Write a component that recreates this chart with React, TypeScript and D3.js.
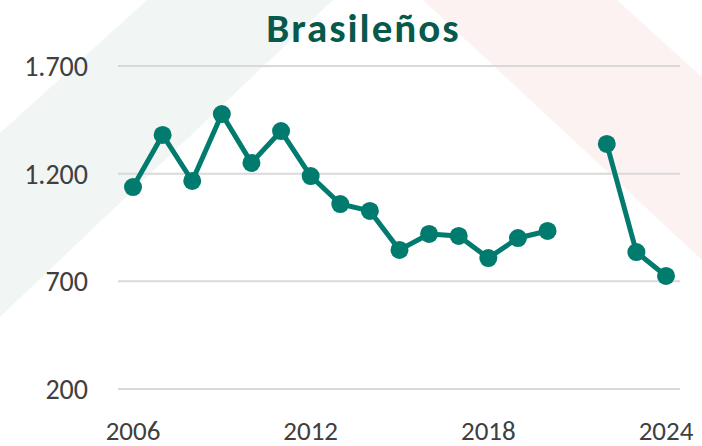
import { useEffect, useRef } from 'react';
import * as d3 from 'd3';

const years = [2006, 2007, 2008, 2009, 2010, 2011, 2012, 2013, 2014, 2015, 2016, 2017, 2018, 2019, 2020, 2021, 2022, 2023, 2024];
const brasilenos: (number | null)[] = [1138, 1380, 1166, 1477, 1250, 1398, 1189, 1059, 1027, 846, 920, 911, 808, 901, 934, null, 1338, 836, 725];
const yTicks = [200, 700, 1200, 1700];
const xTicks = [2006, 2012, 2018, 2024];
const title = 'Brasileños';

/**
 * Line chart: Brasileños per year, with a gap in 2021.
 */
export default function App() {
  const svgRef = useRef<SVGSVGElement>(null);

  useEffect(() => {
    if (!svgRef.current) return;

    const W = 702;
    const H = 446;
    const font = 'Carlito, Calibri, Lato, sans-serif';

    const svg = d3.select(svgRef.current);
    svg.selectAll('*').remove();
    svg.attr('width', W).attr('height', H).attr('viewBox', `0 0 ${W} ${H}`);

    svg.append('rect').attr('width', W).attr('height', H).attr('fill', '#ffffff');

    // faint diagonal watermark bands
    svg
      .append('polygon')
      .attr('points', '147,0 333,0 0,317 0,133')
      .attr('fill', '#f1f5f4');
    svg
      .append('polygon')
      .attr('points', '423,0 617,0 702,77 702,260')
      .attr('fill', '#fcf2f2');

    const x = d3.scaleLinear().domain([2006, 2024]).range([133, 666]);
    const y = d3.scaleLinear().domain([200, 1700]).range([389, 66]);

    // gridlines
    svg
      .append('g')
      .selectAll('line')
      .data(yTicks)
      .join('line')
      .attr('x1', 118)
      .attr('x2', 680)
      .attr('y1', (d) => y(d))
      .attr('y2', (d) => y(d))
      .attr('stroke', '#d9d9d9')
      .attr('stroke-width', 2);

    // y labels
    svg
      .append('g')
      .selectAll('text')
      .data(yTicks)
      .join('text')
      .attr('x', 88)
      .attr('y', (d) => y(d) + 10)
      .attr('text-anchor', 'end')
      .attr('font-family', font)
      .attr('font-size', '28px')
      .attr('fill', '#404040')
      .text((d) => d3.format(',')(d).replace(/,/g, '.'));

    // x labels
    svg
      .append('g')
      .selectAll('text')
      .data(xTicks)
      .join('text')
      .attr('x', (d) => x(d))
      .attr('y', 440)
      .attr('text-anchor', 'middle')
      .attr('font-family', font)
      .attr('font-size', '27px')
      .attr('fill', '#404040')
      .text((d) => String(d));

    const points = years.map((yr, i) => ({ yr, v: brasilenos[i] }));

    const line = d3
      .line<{ yr: number; v: number | null }>()
      .defined((d) => d.v !== null)
      .x((d) => x(d.yr))
      .y((d) => y(d.v as number));

    svg
      .append('path')
      .datum(points)
      .attr('d', line)
      .attr('fill', 'none')
      .attr('stroke', '#017b6e')
      .attr('stroke-width', 5)
      .attr('stroke-linejoin', 'round');

    svg
      .append('g')
      .selectAll('circle')
      .data(points.filter((d) => d.v !== null))
      .join('circle')
      .attr('cx', (d) => x(d.yr))
      .attr('cy', (d) => y(d.v as number))
      .attr('r', 9)
      .attr('fill', '#017b6e');

    svg
      .append('text')
      .attr('x', 363.5)
      .attr('y', 42)
      .attr('text-anchor', 'middle')
      .attr('font-family', font)
      .attr('font-size', '41px')
      .attr('font-weight', 'bold')
      .attr('letter-spacing', '2px')
      .attr('fill', '#07594b')
      .text(title);
  }, []);

  return <svg ref={svgRef} style={{ position: 'absolute', left: 0, top: 0, display: 'block' }} />;
}
